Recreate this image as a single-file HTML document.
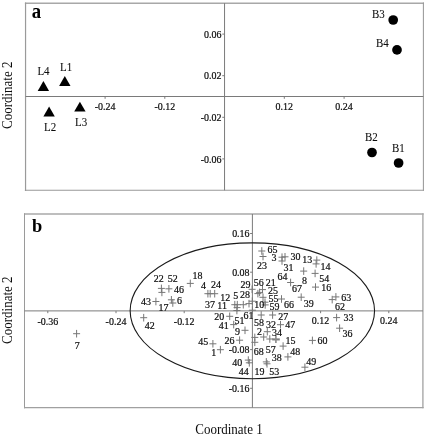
<!DOCTYPE html><html><head><meta charset="utf-8"><title>Figure</title>
<style>html,body{margin:0;padding:0;background:#fff}svg{display:block}text{font-family:"Liberation Serif","Times New Roman",serif;fill:#0c0c0c;stroke:#0c0c0c;stroke-width:0.22px}.t{font-size:11.1px}.l{font-size:13.2px;stroke-width:0.08px}.ax{font-size:15.6px;stroke:none}.b{font-size:20px;font-weight:bold;fill:#000;stroke:none}</style></head><body>
<svg width="425" height="435" viewBox="0 0 425 435">
<rect width="425" height="435" fill="#fff"/>
<path d="M24.9 3.2H424" stroke="#a8a8a8" stroke-width="1.5" fill="none"/>
<path d="M25.55 2.5V191" stroke="#9a9a9a" stroke-width="1.2" fill="none"/>
<path d="M423.4 2.5V190.8" stroke="#989898" stroke-width="1.05" fill="none"/>
<path d="M24.9 190.3H424" stroke="#989898" stroke-width="1.05" fill="none"/>
<path d="M25.6 96.5H423.4M224.55 3.2V190.3" stroke="#7a7a7a" stroke-width="1" fill="none"/>
<path d="M105.1 96.5v2.3M164.8 96.5v2.3M284.3 96.5v2.3M344.1 96.5v2.3M224.55 34.1h-2.3M224.55 75.7h-2.3M224.55 117.3h-2.3M224.55 158.9h-2.3" stroke="#7a7a7a" stroke-width="1" fill="none"/>
<text class="t" transform="translate(105.1 110.0) scale(0.9 1)" text-anchor="middle">-0.24</text>
<text class="t" transform="translate(164.8 110.0) scale(0.9 1)" text-anchor="middle">-0.12</text>
<text class="t" transform="translate(284.3 110.0) scale(0.9 1)" text-anchor="middle">0.12</text>
<text class="t" transform="translate(344.1 110.0) scale(0.9 1)" text-anchor="middle">0.24</text>
<text class="t" transform="translate(221.5 37.8) scale(0.9 1)" text-anchor="end">0.06</text>
<text class="t" transform="translate(221.5 79.4) scale(0.9 1)" text-anchor="end">0.02</text>
<text class="t" transform="translate(221.5 121.0) scale(0.9 1)" text-anchor="end">-0.02</text>
<text class="t" transform="translate(221.5 162.6) scale(0.9 1)" text-anchor="end">-0.06</text>
<text class="b" transform="translate(31.7 17.9) scale(0.94 1)">a</text>
<text class="ax" transform="translate(12.4 95.3) rotate(-90) scale(0.833 1)" text-anchor="middle">Coordinate 2</text>
<path d="M43.4 81.1l5.7 9.9h-11.4z" fill="#000"/>
<path d="M64.8 76.0l5.7 9.9h-11.4z" fill="#000"/>
<path d="M49.1 106.6l5.7 9.9h-11.4z" fill="#000"/>
<path d="M79.9 101.7l5.7 9.9h-11.4z" fill="#000"/>
<text class="l" transform="translate(37.4 75.3) scale(0.83 1)">L4</text>
<text class="l" transform="translate(60.1 71.1) scale(0.83 1)">L1</text>
<text class="l" transform="translate(44.0 131.4) scale(0.83 1)">L2</text>
<text class="l" transform="translate(75.0 125.7) scale(0.83 1)">L3</text>
<circle cx="393.2" cy="20.0" r="4.85" fill="#000"/>
<circle cx="397.0" cy="49.9" r="4.85" fill="#000"/>
<circle cx="372.0" cy="152.5" r="4.85" fill="#000"/>
<circle cx="398.6" cy="163.0" r="4.85" fill="#000"/>
<text class="l" transform="translate(372.0 17.5) scale(0.83 1)">B3</text>
<text class="l" transform="translate(376.0 46.9) scale(0.83 1)">B4</text>
<text class="l" transform="translate(365.0 140.6) scale(0.83 1)">B2</text>
<text class="l" transform="translate(392.0 151.7) scale(0.83 1)">B1</text>
<path d="M24 214.0H423.6" stroke="#a8a8a8" stroke-width="1.45" fill="none"/>
<path d="M24.5 213.3V408.3" stroke="#9a9a9a" stroke-width="1.0" fill="none"/>
<path d="M422.9 213.3V408.3" stroke="#a8a8a8" stroke-width="1.4" fill="none"/>
<path d="M24 407.65H423.6" stroke="#a0a0a0" stroke-width="1.35" fill="none"/>
<path d="M24.5 310.9H422.9M252.4 214.0V407.65" stroke="#7a7a7a" stroke-width="1" fill="none"/>
<path d="M47.8 310.9v2.3M116.0 310.9v2.3M184.2 310.9v2.3M320.6 310.9v2.3M388.8 310.9v2.3M252.4 233.5h-2.3M252.4 272.2h-2.3M252.4 349.6h-2.3M252.4 388.3h-2.3" stroke="#7a7a7a" stroke-width="1" fill="none"/>
<text class="t" transform="translate(47.8 324.5) scale(0.9 1)" text-anchor="middle">-0.36</text>
<text class="t" transform="translate(116.0 324.5) scale(0.9 1)" text-anchor="middle">-0.24</text>
<text class="t" transform="translate(184.2 324.5) scale(0.9 1)" text-anchor="middle">-0.12</text>
<text class="t" transform="translate(320.6 323.6) scale(0.9 1)" text-anchor="middle">0.12</text>
<text class="t" transform="translate(388.8 323.6) scale(0.9 1)" text-anchor="middle">0.24</text>
<text class="t" transform="translate(249.6 237.2) scale(0.9 1)" text-anchor="end">0.16</text>
<text class="t" transform="translate(249.6 275.9) scale(0.9 1)" text-anchor="end">0.08</text>
<text class="t" transform="translate(249.6 353.3) scale(0.9 1)" text-anchor="end">-0.08</text>
<text class="t" transform="translate(249.6 392.0) scale(0.9 1)" text-anchor="end">-0.16</text>
<text class="b" style="font-size:19.4px" transform="translate(31.9 232.0) scale(0.95 1)">b</text>
<text class="ax" transform="translate(11.9 310.2) rotate(-90) scale(0.833 1)" text-anchor="middle">Coordinate 2</text>
<text class="ax" transform="translate(229 434.4) scale(0.833 1)" text-anchor="middle">Coordinate 1</text>
<ellipse cx="252.35" cy="310.8" rx="122.2" ry="67.9" fill="none" stroke="#1a1a1a" stroke-width="1.1"/>
<path d="M73.1 333.7h7M76.6 329.9v7.6M157.9 288.4h7M161.4 284.6v7.6M158.4 292.4h7M161.9 288.6v7.6M165.4 288.8h7M168.9 285.0v7.6M152.4 301.5h7M155.9 297.7v7.6M167.9 299.8h7M171.4 296.0v7.6M169.3 303.0h7M172.8 299.2v7.6M186.8 283.4h7M190.3 279.6v7.6M140.2 317.7h7M143.7 313.9v7.6M204.4 293.7h7M207.9 289.9v7.6M206.7 293.7h7M210.2 289.9v7.6M211.2 293.7h7M214.7 289.9v7.6M231.3 304.7h7M234.8 300.9v7.6M233.8 304.7h7M237.3 300.9v7.6M233.6 307.6h7M237.1 303.8v7.6M239.8 304.7h7M243.3 300.9v7.6M245.5 303.6h7M249.0 299.8v7.6M248.8 301.2h7M252.3 297.4v7.6M233.4 310.5h7M236.9 306.7v7.6M248.9 310.2h7M252.4 306.4v7.6M226.2 316.3h7M229.7 312.5v7.6M230.2 324.6h7M233.7 320.8v7.6M241.5 330.3h7M245.0 326.5v7.6M236.1 340.2h7M239.6 336.4v7.6M209.4 343.8h7M212.9 340.0v7.6M216.9 349.7h7M220.4 345.9v7.6M244.8 360.1h7M248.3 356.3v7.6M245.8 362.8h7M249.3 359.0v7.6M248.6 289.3h7M252.1 285.5v7.6M259.0 289.6h7M262.5 285.8v7.6M254.4 293.6h7M257.9 289.8v7.6M259.5 297.3h7M263.0 293.5v7.6M261.5 302.2h7M265.0 298.4v7.6M261.7 304.9h7M265.2 301.1v7.6M256.1 292.4h7M259.6 288.6v7.6M278.0 299.0h7M281.5 295.2v7.6M257.7 315.0h7M261.2 311.2v7.6M269.1 315.0h7M272.6 311.2v7.6M277.0 324.7h7M280.5 320.9v7.6M258.3 251.0h7M261.8 247.2v7.6M259.5 256.5h7M263.0 252.7v7.6M278.5 257.2h7M282.0 253.4v7.6M281.5 256.8h7M285.0 253.0v7.6M278.5 261.0h7M282.0 257.2v7.6M300.2 271.1h7M303.7 267.3v7.6M287.1 282.5h7M290.6 278.7v7.6M313.3 260.1h7M316.8 256.3v7.6M312.6 263.9h7M316.1 260.1v7.6M311.6 273.4h7M315.1 269.6v7.6M312.0 287.1h7M315.5 283.3v7.6M297.7 297.2h7M301.2 293.4v7.6M328.7 299.6h7M332.2 295.8v7.6M332.4 296.9h7M335.9 293.1v7.6M333.1 317.6h7M336.6 313.8v7.6M336.1 328.2h7M339.6 324.4v7.6M263.8 331.7h7M267.3 327.9v7.6M260.2 337.0h7M263.7 333.2v7.6M266.3 339.0h7M269.8 335.2v7.6M251.3 337.4h7M254.8 333.6v7.6M251.3 342.3h7M254.8 338.5v7.6M279.6 346.1h7M283.1 342.3v7.6M284.4 356.9h7M287.9 353.1v7.6M262.8 361.9h7M266.3 358.1v7.6M263.5 363.8h7M267.0 360.0v7.6M308.9 340.4h7M312.4 336.6v7.6M301.4 367.2h7M304.9 363.4v7.6" stroke="#777777" stroke-width="1" fill="none"/>
<path d="M272.2 339.4h7.6" stroke="#808080" stroke-width="2.1" fill="none"/><path d="M275.9 335.6v7.4" stroke="#8a8a8a" stroke-width="1.6" fill="none"/>
<text class="t" transform="translate(74.7 349.15) scale(0.9 1)">7</text>
<text class="t" transform="translate(153.8 282.05) scale(0.9 1)">22</text>
<text class="t" transform="translate(167.8 282.05) scale(0.9 1)">52</text>
<text class="t" transform="translate(174.0 293.35) scale(0.9 1)">46</text>
<text class="t" transform="translate(141.0 305.05) scale(0.9 1)">43</text>
<text class="t" transform="translate(158.4 310.65) scale(0.9 1)">17</text>
<text class="t" transform="translate(177.0 304.15) scale(0.9 1)">6</text>
<text class="t" transform="translate(144.7 329.05) scale(0.9 1)">42</text>
<text class="t" transform="translate(192.4 279.35) scale(0.9 1)">18</text>
<text class="t" transform="translate(200.9 288.55) scale(0.9 1)">4</text>
<text class="t" transform="translate(211.1 287.75) scale(0.9 1)">24</text>
<text class="t" transform="translate(205.0 307.55) scale(0.9 1)">37</text>
<text class="t" transform="translate(217.3 308.95) scale(0.9 1)">11</text>
<text class="t" transform="translate(220.2 301.35) scale(0.9 1)">12</text>
<text class="t" transform="translate(233.2 298.65) scale(0.9 1)">5</text>
<text class="t" transform="translate(239.9 297.95) scale(0.9 1)">28</text>
<text class="t" transform="translate(240.4 287.75) scale(0.9 1)">29</text>
<text class="t" transform="translate(214.2 319.85) scale(0.9 1)">20</text>
<text class="t" transform="translate(243.4 318.95) scale(0.9 1)">61</text>
<text class="t" transform="translate(234.6 324.15) scale(0.9 1)">51</text>
<text class="t" transform="translate(218.8 329.15) scale(0.9 1)">41</text>
<text class="t" transform="translate(234.9 335.25) scale(0.9 1)">9</text>
<text class="t" transform="translate(224.6 343.85) scale(0.9 1)">26</text>
<text class="t" transform="translate(198.2 344.65) scale(0.9 1)">45</text>
<text class="t" transform="translate(211.3 356.45) scale(0.9 1)">1</text>
<text class="t" transform="translate(232.3 366.35) scale(0.9 1)">40</text>
<text class="t" transform="translate(238.8 374.75) scale(0.9 1)">44</text>
<text class="t" transform="translate(253.8 285.75) scale(0.9 1)">56</text>
<text class="t" transform="translate(265.8 285.75) scale(0.9 1)">21</text>
<text class="t" transform="translate(268.0 293.65) scale(0.9 1)">25</text>
<text class="t" transform="translate(268.5 301.85) scale(0.9 1)">55</text>
<text class="t" transform="translate(254.2 308.45) scale(0.9 1)">10</text>
<text class="t" transform="translate(269.5 310.25) scale(0.9 1)">59</text>
<text class="t" transform="translate(284.0 308.15) scale(0.9 1)">66</text>
<text class="t" transform="translate(303.7 307.35) scale(0.9 1)">39</text>
<text class="t" transform="translate(292.0 291.85) scale(0.9 1)">67</text>
<text class="t" transform="translate(302.0 284.25) scale(0.9 1)">8</text>
<text class="t" transform="translate(277.5 280.45) scale(0.9 1)">64</text>
<text class="t" transform="translate(267.6 252.65) scale(0.9 1)">65</text>
<text class="t" transform="translate(271.5 261.15) scale(0.9 1)">3</text>
<text class="t" transform="translate(257.1 268.95) scale(0.9 1)">23</text>
<text class="t" transform="translate(290.6 259.95) scale(0.9 1)">30</text>
<text class="t" transform="translate(283.6 270.85) scale(0.9 1)">31</text>
<text class="t" transform="translate(302.2 263.35) scale(0.9 1)">13</text>
<text class="t" transform="translate(320.6 270.45) scale(0.9 1)">14</text>
<text class="t" transform="translate(319.3 281.75) scale(0.9 1)">54</text>
<text class="t" transform="translate(321.2 290.55) scale(0.9 1)">16</text>
<text class="t" transform="translate(341.2 300.95) scale(0.9 1)">63</text>
<text class="t" transform="translate(334.9 309.65) scale(0.9 1)">62</text>
<text class="t" transform="translate(343.5 321.15) scale(0.9 1)">33</text>
<text class="t" transform="translate(342.5 337.35) scale(0.9 1)">36</text>
<text class="t" transform="translate(278.3 320.35) scale(0.9 1)">27</text>
<text class="t" transform="translate(285.3 327.75) scale(0.9 1)">47</text>
<text class="t" transform="translate(254.0 326.05) scale(0.9 1)">58</text>
<text class="t" transform="translate(266.0 327.95) scale(0.9 1)">32</text>
<text class="t" transform="translate(256.9 334.85) scale(0.9 1)">2</text>
<text class="t" transform="translate(271.9 336.05) scale(0.9 1)">34</text>
<text class="t" transform="translate(285.5 343.75) scale(0.9 1)">15</text>
<text class="t" transform="translate(317.6 344.45) scale(0.9 1)">60</text>
<text class="t" transform="translate(253.8 354.55) scale(0.9 1)">68</text>
<text class="t" transform="translate(265.8 352.85) scale(0.9 1)">57</text>
<text class="t" transform="translate(271.7 360.85) scale(0.9 1)">38</text>
<text class="t" transform="translate(290.3 355.05) scale(0.9 1)">48</text>
<text class="t" transform="translate(306.3 364.95) scale(0.9 1)">49</text>
<text class="t" transform="translate(254.5 374.95) scale(0.9 1)">19</text>
<text class="t" transform="translate(269.3 375.15) scale(0.9 1)">53</text>
</svg></body></html>
